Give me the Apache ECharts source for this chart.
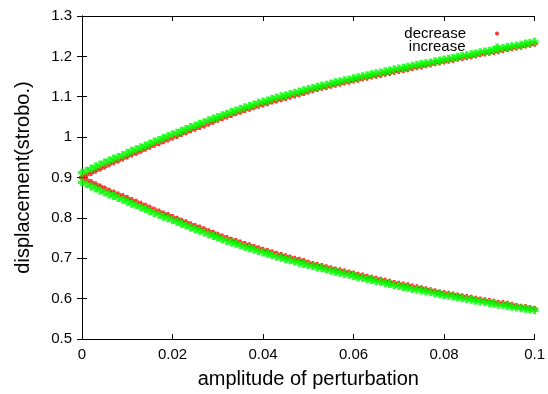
<!DOCTYPE html>
<html>
<head>
<meta charset="utf-8">
<script src="https://cdn.jsdelivr.net/npm/echarts@6/dist/echarts.min.js"></script>
<style>html,body{margin:0;padding:0;background:#fff}#c{width:548px;height:394px}</style>
</head>
<body>
<div id="c"></div>
<script>
var amplitude = [0.000,0.001,0.002,0.003,0.004,0.005,0.006,0.007,0.008,0.009,
0.010,0.011,0.012,0.013,0.014,0.015,0.016,0.017,0.018,0.019,
0.020,0.021,0.022,0.023,0.024,0.025,0.026,0.027,0.028,0.029,
0.030,0.031,0.032,0.033,0.034,0.035,0.036,0.037,0.038,0.039,
0.040,0.041,0.042,0.043,0.044,0.045,0.046,0.047,0.048,0.049,
0.050,0.051,0.052,0.053,0.054,0.055,0.056,0.057,0.058,0.059,
0.060,0.061,0.062,0.063,0.064,0.065,0.066,0.067,0.068,0.069,
0.070,0.071,0.072,0.073,0.074,0.075,0.076,0.077,0.078,0.079,
0.080,0.081,0.082,0.083,0.084,0.085,0.086,0.087,0.088,0.089,
0.090,0.091,0.092,0.093,0.094,0.095,0.096,0.097,0.098,0.099,0.100];

var decreaseUpper = [0.900,0.906,0.911,0.917,0.922,0.927,0.933,0.938,0.942,0.947,
0.952,0.957,0.961,0.966,0.971,0.976,0.981,0.985,0.990,0.994,
0.999,1.003,1.008,1.012,1.017,1.021,1.025,1.029,1.034,1.038,
1.043,1.047,1.051,1.055,1.059,1.063,1.067,1.070,1.074,1.078,
1.081,1.084,1.088,1.091,1.094,1.097,1.100,1.103,1.106,1.109,
1.113,1.116,1.119,1.122,1.124,1.127,1.130,1.132,1.135,1.137,
1.140,1.142,1.145,1.147,1.150,1.152,1.154,1.157,1.159,1.162,
1.164,1.166,1.168,1.171,1.173,1.175,1.178,1.180,1.183,1.185,
1.187,1.189,1.191,1.194,1.196,1.198,1.200,1.202,1.205,1.207,
1.209,1.211,1.213,1.216,1.218,1.220,1.222,1.224,1.227,1.229,1.231];

var decreaseLower = [0.900,0.894,0.889,0.883,0.878,0.873,0.867,0.863,0.858,0.854,
0.849,0.844,0.840,0.835,0.830,0.825,0.820,0.816,0.811,0.807,
0.802,0.798,0.793,0.789,0.784,0.780,0.776,0.772,0.767,0.763,
0.758,0.754,0.750,0.746,0.743,0.739,0.735,0.732,0.728,0.725,
0.721,0.718,0.715,0.711,0.708,0.705,0.702,0.699,0.696,0.693,
0.689,0.686,0.683,0.681,0.678,0.675,0.672,0.670,0.667,0.665,
0.662,0.659,0.657,0.654,0.652,0.649,0.647,0.644,0.642,0.639,
0.637,0.635,0.633,0.630,0.628,0.626,0.623,0.621,0.618,0.616,
0.614,0.612,0.610,0.608,0.606,0.604,0.602,0.600,0.598,0.596,
0.594,0.592,0.590,0.589,0.587,0.585,0.582,0.580,0.579,0.577,0.575];

var increaseUpper = [0.912,0.917,0.922,0.927,0.932,0.937,0.942,0.947,0.951,0.956,
0.961,0.966,0.970,0.975,0.979,0.984,0.989,0.993,0.998,1.002,
1.007,1.011,1.016,1.020,1.025,1.029,1.033,1.037,1.042,1.046,
1.050,1.054,1.058,1.062,1.066,1.070,1.074,1.077,1.081,1.085,
1.088,1.091,1.095,1.098,1.101,1.104,1.107,1.110,1.113,1.116,
1.119,1.122,1.125,1.128,1.130,1.133,1.136,1.138,1.141,1.143,
1.146,1.148,1.151,1.153,1.156,1.158,1.160,1.163,1.165,1.168,
1.170,1.172,1.174,1.177,1.179,1.181,1.183,1.185,1.188,1.190,
1.192,1.194,1.196,1.199,1.201,1.203,1.205,1.207,1.210,1.212,
1.214,1.216,1.218,1.221,1.223,1.225,1.227,1.229,1.232,1.234,1.236];

var increaseLower = [0.888,0.883,0.878,0.873,0.868,0.863,0.858,0.854,0.849,0.845,
0.840,0.835,0.831,0.826,0.822,0.817,0.812,0.808,0.803,0.799,
0.794,0.790,0.785,0.781,0.776,0.772,0.768,0.764,0.759,0.755,
0.751,0.747,0.743,0.739,0.736,0.732,0.728,0.725,0.721,0.718,
0.714,0.711,0.708,0.704,0.701,0.698,0.695,0.692,0.689,0.686,
0.683,0.680,0.677,0.675,0.672,0.669,0.666,0.664,0.661,0.659,
0.656,0.653,0.651,0.648,0.646,0.643,0.641,0.638,0.636,0.633,
0.631,0.629,0.627,0.624,0.622,0.620,0.618,0.616,0.613,0.611,
0.609,0.607,0.605,0.603,0.601,0.599,0.597,0.595,0.593,0.591,
0.589,0.587,0.585,0.584,0.582,0.580,0.578,0.576,0.575,0.573,0.571];

var xTickLabels = ['0', '0.02', '0.04', '0.06', '0.08', '0.1'];
var yTickLabels = ['0.5', '0.6', '0.7', '0.8', '0.9', '1', '1.1', '1.2', '1.3'];

function pairs(xs, ys) {
  var out = [];
  for (var i = 0; i < xs.length; i++) out.push([xs[i], ys[i]]);
  return out;
}

var plusPath = 'path://M2,0H5V2H7V5H5V7H2V5H0V2H2Z';
var FONT = 'Liberation Sans';

var chart = echarts.init(document.getElementById('c'), null, {renderer: 'canvas'});

var axisCommon = {
  axisLine: {show: true, lineStyle: {color: '#000', width: 1}},
  axisTick: {show: true, inside: true, length: 5, lineStyle: {color: '#000'}},
  splitLine: {show: false}
};

chart.setOption({
  animation: false,
  backgroundColor: '#fff',
  grid: {left: 82, right: 11, top: 16, bottom: 52, containLabel: false},
  xAxis: [
    Object.assign({}, axisCommon, {
      type: 'value', min: 0, max: 0.1, interval: 0.02, position: 'bottom',
      axisLabel: {color: '#000', fontFamily: FONT, fontSize: 15, margin: 8,
        formatter: function (v, i) { return xTickLabels[i]; }},
      name: 'amplitude of perturbation', nameLocation: 'middle', nameGap: 30,
      nameTextStyle: {color: '#000', fontFamily: FONT, fontSize: 20}
    }),
    Object.assign({}, axisCommon, {
      type: 'value', min: 0, max: 0.1, interval: 0.02, position: 'top',
      axisLabel: {show: false}
    })
  ],
  yAxis: [
    Object.assign({}, axisCommon, {
      type: 'value', min: 0.5, max: 1.3, interval: 0.1, position: 'left',
      axisLabel: {color: '#000', fontFamily: FONT, fontSize: 15, margin: 10,
        formatter: function (v, i) { return yTickLabels[i]; }},
      name: 'displacement(strobo.)', nameLocation: 'middle', nameGap: 49,
      nameTextStyle: {color: '#000', fontFamily: FONT, fontSize: 20}
    }),
    Object.assign({}, axisCommon, {
      type: 'value', min: 0.5, max: 1.3, interval: 0.1, position: 'right',
      axisLabel: {show: false}
    })
  ],
  legend: [
    {
      data: ['decrease'], orient: 'vertical', align: 'right', right: 49, top: 26,
      padding: 0, icon: 'circle', itemWidth: 4, itemHeight: 4,
      textStyle: {color: '#000', fontFamily: FONT, fontSize: 15, padding: [0, 24, 0, 0]}
    },
    {
      data: ['increase'], orient: 'vertical', align: 'right', right: 47.5, top: 39.5,
      padding: 0, icon: plusPath, itemWidth: 7, itemHeight: 7,
      textStyle: {color: '#000', fontFamily: FONT, fontSize: 15, padding: [0, 23, 0, 0]}
    }
  ],
  series: [
    {
      name: 'decrease', type: 'scatter', xAxisIndex: 0, yAxisIndex: 0,
      symbol: plusPath, symbolSize: 6,
      itemStyle: {color: '#ff0000'},
      data: pairs(amplitude, decreaseUpper).concat(pairs(amplitude, decreaseLower)),
      z: 2
    },
    {
      name: 'increase', type: 'scatter', xAxisIndex: 0, yAxisIndex: 0,
      symbol: plusPath, symbolSize: 8,
      itemStyle: {color: '#00ff00'},
      data: pairs(amplitude, increaseUpper).concat(pairs(amplitude, increaseLower)),
      z: 3
    }
  ]
});
</script>
</body>
</html>
